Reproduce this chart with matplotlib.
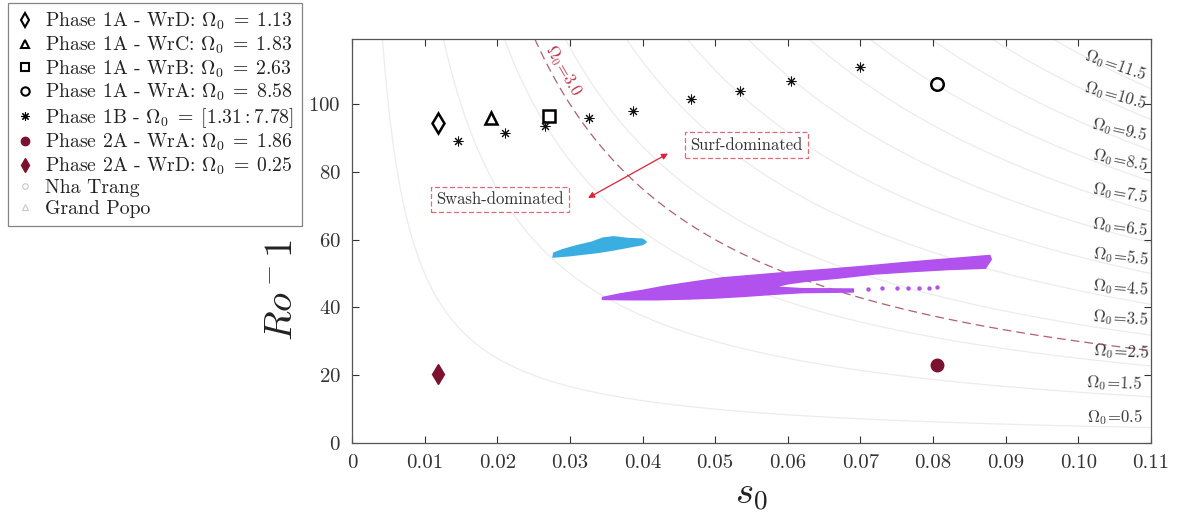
import numpy as np
import matplotlib
matplotlib.use("Agg")
import matplotlib.pyplot as plt
from matplotlib.lines import Line2D

plt.rcParams['font.family'] = 'serif'
plt.rcParams['font.serif'] = ['cmr10', 'DejaVu Serif']
plt.rcParams['mathtext.fontset'] = 'cm'
plt.rcParams['axes.formatter.use_mathtext'] = True

# ---------------- data ----------------
xticks = [0, 0.01, 0.02, 0.03, 0.04, 0.05, 0.06, 0.07, 0.08, 0.09, 0.10, 0.11]
xtick_labels = ["0", "0.01", "0.02", "0.03", "0.04", "0.05", "0.06", "0.07",
                "0.08", "0.09", "0.10", "0.11"]
yticks = [0, 20, 40, 60, 80, 100]

omega_levels = [0.5, 1.5, 2.5, 3.5, 4.5, 5.5, 6.5, 7.5, 8.5, 9.5, 10.5, 11.5]
omega_threshold = 3.0

# Phase 1A (open markers)
p1a_wrd = (0.0119, 94.4)
p1a_wrc = (0.0191, 95.9)
p1a_wrb = (0.0271, 96.5)
p1a_wra = (0.0806, 106.0)
# Phase 1B
p1b_s0 = [0.0146, 0.0210, 0.0266, 0.0326, 0.0387, 0.0467, 0.0534, 0.0604, 0.0699]
p1b_ro = [89.1, 91.6, 93.4, 95.8, 98.1, 101.4, 104.0, 106.9, 110.9]
# Phase 2A (filled markers)
p2a_wra = (0.0806, 22.9)
p2a_wrd = (0.0118, 20.4)

# Nha Trang observation cloud (outline)
nha_s0 = [0.0277, 0.0300, 0.0320, 0.0340, 0.0360, 0.0380, 0.0400, 0.0405,
          0.0400, 0.0380, 0.0360, 0.0345, 0.0330, 0.0310, 0.0290, 0.0278]
nha_ro = [54.9, 55.3, 55.8, 56.3, 57.0, 57.8, 58.6, 59.3,
          60.1, 60.3, 60.8, 60.4, 59.2, 58.2, 57.0, 56.0]

# Grand Popo observation cloud (outline)
gp_s0 = [0.0345, 0.0370, 0.0400, 0.0430, 0.0470, 0.0510, 0.0560, 0.0610, 0.0660,
         0.0710, 0.0760, 0.0810, 0.0850, 0.0878, 0.0880, 0.0872, 0.0820, 0.0770,
         0.0720, 0.0670, 0.0630, 0.0600, 0.0580, 0.0620, 0.0690, 0.0690, 0.0620,
         0.0580, 0.0540, 0.0500, 0.0460, 0.0420, 0.0380, 0.0345]
gp_ro = [42.9, 44.0, 45.0, 46.2, 47.5, 48.7, 49.6, 50.5, 51.3,
         52.2, 53.2, 54.1, 54.8, 55.3, 54.2, 51.6, 51.2, 50.6,
         49.9, 48.7, 47.9, 47.0, 46.0, 45.5, 45.4, 44.6, 44.4,
         43.9, 43.3, 42.8, 42.5, 42.3, 42.3, 42.4]
gp_sparse_s0 = [0.0710, 0.0730, 0.0750, 0.0765, 0.0780, 0.0795, 0.0805]
gp_sparse_ro = [45.5, 45.6, 45.6, 45.7, 45.8, 45.8, 45.9]

legend_labels = [
    r'Phase 1A - WrD: $\Omega_0\;=\;1.13$',
    r'Phase 1A - WrC: $\Omega_0\;=\;1.83$',
    r'Phase 1A - WrB: $\Omega_0\;=\;2.63$',
    r'Phase 1A - WrA: $\Omega_0\;=\;8.58$',
    r'Phase 1B - $\Omega_0\;=\;[1.31 : 7.78]$',
    r'Phase 2A - WrA: $\Omega_0\;=\;1.86$',
    r'Phase 2A - WrD: $\Omega_0\;=\;0.25$',
    'Nha Trang',
    'Grand Popo',
]

# ---------------- figure ----------------
fig = plt.figure(figsize=(11.81, 5.17), dpi=100)
ax = fig.add_axes([352/1181, 1-443/517, 799/1181, 404/517])
XMAX, YMAX = 0.11, 119.2
ax.set_xlim(0, XMAX)
ax.set_ylim(0, YMAX)

# contour lines of Omega_0 = s0 * Ro^-1
sg = np.linspace(0.0003, XMAX, 500)
rg = np.linspace(0.2, YMAX, 500)
S, R = np.meshgrid(sg, rg)
Z = S * R
ax.contour(S, R, Z, levels=omega_levels, colors='#ececec', linewidths=0.9, zorder=1)
ax.contour(S, R, Z, levels=[omega_threshold], colors='#b06070',
           linewidths=0.9, linestyles=[(0, (7, 4))], zorder=2)

# contour labels
lab_y = [7.6, 17.7, 27.1, 36.9, 46.0, 54.9, 63.7, 73.8, 83.5, 92.4, 102.7, 111.6]
lab_rot = [0, -2, -3, -4, -5, -7, -8, -10, -12, -13, -16, -19]
lab_x = [0.1089, 0.1089, 0.1098, 0.1098, 0.1098, 0.1098, 0.1098, 0.1098, 0.1098,
         0.1098, 0.1098, 0.1098]
for om, yy, rot, xx in zip(omega_levels, lab_y, lab_rot, lab_x):
    ax.text(xx, yy, r'$\Omega_0\!=\!%s$' % om, ha='right', va='center',
            rotation=rot, fontsize=12, color='#3a3a3a', zorder=3)

ax.text(0.0291, 110.0, r'$\Omega_0\!=\!3.0$', ha='center', va='center',
        rotation=-60, fontsize=12, color='#c0304a', zorder=3)

# observation clouds
ax.fill(nha_s0, nha_ro, color='#3aaee0', edgecolor='#3aaee0', linewidth=1.2, zorder=4)
ax.fill(gp_s0, gp_ro, color='#b152ee', edgecolor='#b152ee', linewidth=1.2, zorder=4)
ax.scatter(gp_sparse_s0, gp_sparse_ro, s=10, color='#b152ee', linewidths=0, zorder=4)

# markers
ax.plot(*p1a_wrd, linestyle='none', marker='d', ms=10, mfc='none', mec='k', mew=1.8, zorder=6)
ax.plot(*p1a_wrc, linestyle='none', marker='^', ms=9, mfc='none', mec='k', mew=1.8, zorder=6)
ax.plot(*p1a_wrb, linestyle='none', marker='s', ms=8, mfc='none', mec='k', mew=1.8, zorder=6)
ax.plot(*p1a_wra, linestyle='none', marker='o', ms=9, mfc='none', mec='k', mew=1.8, zorder=6)
ax.plot(p1b_s0, p1b_ro, linestyle='none', marker=(8, 2, 0), ms=7, mec='#111111', mew=0.75, zorder=6)
ax.plot(*p2a_wra, linestyle='none', marker='o', ms=9, mfc='#7a1230', mec='#7a1230', zorder=6)
ax.plot(*p2a_wrd, linestyle='none', marker='d', ms=10, mfc='#7a1230', mec='#7a1230', zorder=6)

# annotations
box = dict(boxstyle='square,pad=0.3', fc='white', ec='#e06878', lw=0.9, ls=(0, (4, 2)))
ax.text(0.0543, 87.9, 'Surf-dominated', ha='center', va='center', fontsize=12,
        color='#333333', bbox=box, zorder=7)
ax.text(0.0204, 71.9, 'Swash-dominated', ha='center', va='center', fontsize=12,
        color='#333333', bbox=box, zorder=7)
ax.annotate('', xy=(0.0435, 85.4), xytext=(0.0325, 72.3),
            arrowprops=dict(arrowstyle='<|-|>', color='#e0203a', lw=0.9,
                            mutation_scale=9, shrinkA=0, shrinkB=0), zorder=7)

# axes styling
ax.set_xticks(xticks)
ax.set_xticklabels(xtick_labels)
ax.set_yticks(yticks)
ax.tick_params(direction='in', top=True, right=True, length=5, width=0.8,
               labelsize=15, colors='#333333', pad=8)
for sp in ax.spines.values():
    sp.set_color('#555555')
    sp.set_linewidth(0.9)

ax.set_xlabel(r'$s_0$', fontsize=28, color='#222222')
ax.xaxis.set_label_coords(0.5, -0.085)
ax.set_ylabel(r'$Ro^-1$', fontsize=28, color='#222222')
ax.yaxis.set_label_coords(-0.065, 0.38)

# legend
handles = [
    Line2D([], [], ls='none', marker='d', ms=7, mfc='none', mec='k', mew=1.5),
    Line2D([], [], ls='none', marker='^', ms=6, mfc='none', mec='k', mew=1.5),
    Line2D([], [], ls='none', marker='s', ms=5.5, mfc='none', mec='k', mew=1.5),
    Line2D([], [], ls='none', marker='o', ms=6, mfc='none', mec='k', mew=1.5),
    Line2D([], [], ls='none', marker=(8, 2, 0), ms=6, mec='k', mew=0.8),
    Line2D([], [], ls='none', marker='o', ms=6, mfc='#7a1230', mec='#7a1230'),
    Line2D([], [], ls='none', marker='d', ms=7, mfc='#7a1230', mec='#7a1230'),
    Line2D([], [], ls='none', marker='o', ms=4, mfc='none', mec='#c8c8c8', mew=0.8),
    Line2D([], [], ls='none', marker='^', ms=4, mfc='none', mec='#c8c8c8', mew=0.8),
]
leg = fig.legend(handles, legend_labels, loc='upper left',
                 bbox_to_anchor=(8/1181, 1-3/517), borderaxespad=0,
                 fontsize=14.2, frameon=True, fancybox=False, edgecolor='#666666',
                 handlelength=0.9, handletextpad=0.6, labelspacing=0.12,
                 borderpad=0.4)
leg.get_frame().set_linewidth(0.9)
for t in leg.get_texts():
    t.set_color('#222222')

fig.savefig('out.png', dpi=100)
